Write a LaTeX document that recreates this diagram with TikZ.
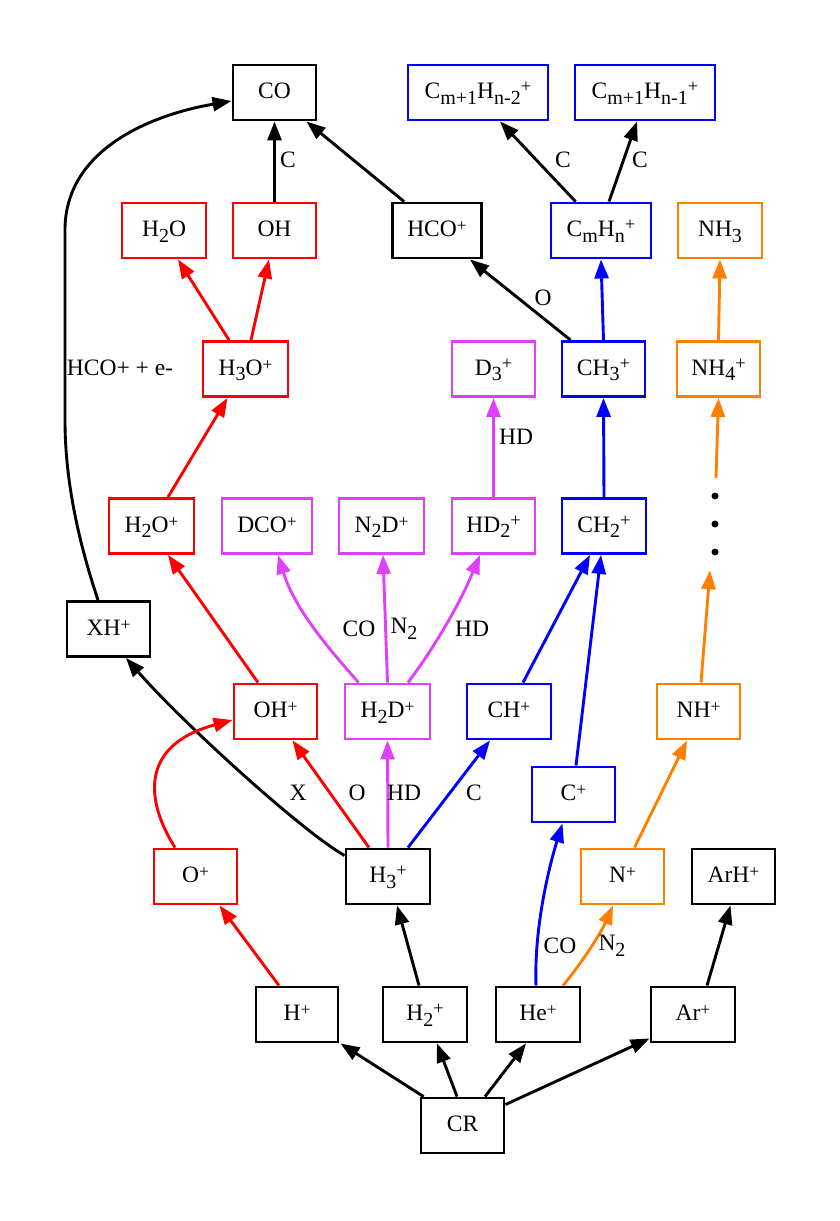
\documentclass[tikz,border=0pt]{standalone}
\usepackage{fontspec}
\setmainfont{Liberation Serif}
\usetikzlibrary{arrows.meta,calc}
\definecolor{mag}{RGB}{224,64,251}
\definecolor{org}{RGB}{255,128,0}
\newcommand\sbs[1]{\raisebox{-5.5pt}{\fontsize{20}{20}\selectfont #1}}
\newcommand\spa[1]{\raisebox{5pt}{\fontsize{17.5}{17.5}\selectfont #1}}
\newcommand\spb[1]{\raisebox{6.2pt}{\fontsize{18.5}{18.5}\selectfont #1}}
\begin{document}
\begin{tikzpicture}[x=1pt,y=-1pt,
  box/.style={draw, line width=2.9pt, minimum width=83pt, minimum height=55pt, inner sep=0pt,
    text height=19pt, text depth=6.5pt, font=\fontsize{23.5}{28}\selectfont},
  rbox/.style={box, draw=red},
  bbox/.style={box, draw=blue},
  obox/.style={box, draw=org},
  mbox/.style={box, draw=mag},
  lab/.style={font=\fontsize{23.5}{28}\selectfont, inner sep=0pt},
  edge/.style={line width=2.9pt, -{Triangle[length=19pt,width=14pt]}},
  dot/.style={circle, fill=black, minimum size=7pt, inner sep=0pt},
]
\useasboundingbox (0,0) rectangle (840,1221);
% nodes
\node[box] (CO) at (274.5,92.5) {CO};
\node[bbox,minimum width=140pt] (Cp2) at (478,92.5) {C\sbs{m+1}H\sbs{n-2}\spb{+}};
\node[bbox,minimum width=140pt] (Cp1) at (645,92.5) {C\sbs{m+1}H\sbs{n-1}\spb{+}};
\node[rbox,minimum width=84pt] (H2O) at (164,230.5) {H\sbs{2}O};
\node[rbox] (OH) at (274.5,230.5) {OH};
\node[box,minimum width=89pt] (HCOp) at (437,230.5) {HCO\spa{+}};
\node[bbox,minimum width=100pt] (CmHn) at (601,230.5) {C\sbs{m}H\sbs{n}\spb{+}};
\node[obox,minimum width=84pt] (NH3) at (720,230.5) {NH\sbs{3}};
\node[rbox,minimum width=85pt] (H3Op) at (245.5,369) {H\sbs{3}O\spa{+}};
\node[mbox] (D3p) at (493.5,369) {D\sbs{3}\spb{+}};
\node[bbox] (CH3p) at (603.5,369) {CH\sbs{3}\spb{+}};
\node[obox] (NH4p) at (718.5,369) {NH\sbs{4}\spb{+}};
\node[rbox,minimum width=85pt] (H2Op) at (151.5,526) {H\sbs{2}O\spa{+}};
\node[mbox,minimum width=90pt] (DCOp) at (267,526) {DCO\spa{+}};
\node[mbox,minimum width=85pt] (N2Dp) at (381.5,526) {N\sbs{2}D\spa{+}};
\node[mbox] (HD2p) at (493.5,526) {HD\sbs{2}\spb{+}};
\node[bbox,minimum width=84pt] (CH2p) at (604,526) {CH\sbs{2}\spb{+}};
\node[dot] (d1) at (715,496) {};
\node[dot] (d2) at (715,524) {};
\node[dot] (d3) at (715,552) {};
\node[box] (XHp) at (108.5,629) {XH\spa{+}};
\node[rbox] (OHp) at (275.5,711.5) {OH\spa{+}};
\node[mbox,minimum width=85pt] (H2Dp) at (387.5,711.5) {H\sbs{2}D\spa{+}};
\node[bbox,minimum width=84pt] (CHp) at (509,711.5) {CH\spa{+}};
\node[obox] (NHp) at (698.5,711.5) {NH\spa{+}};
\node[bbox] (Cp) at (573.5,794.5) {C\spa{+}};
\node[rbox] (Op) at (195.5,876.5) {O\spa{+}};
\node[box,minimum width=84pt] (H3p) at (388,876.5) {H\sbs{3}\spb{+}};
\node[obox] (Np) at (622.5,876.5) {N\spa{+}};
\node[box] (ArHp) at (733.5,876.5) {ArH\spa{+}};
\node[box,minimum width=82pt] (Hp) at (297,1014.5) {H\spa{+}};
\node[box,minimum width=84pt] (H2p) at (425,1014.5) {H\sbs{2}\spb{+}};
\node[box,minimum width=84pt] (Hep) at (538,1014.5) {He\spa{+}};
\node[box,minimum width=84pt] (Arp) at (693,1014.5) {Ar\spa{+}};
\node[box] (CR) at (462.5,1125.5) {CR};
% black edges
\draw[edge] ($(CR.north west)+(4,0)$) -- ($(Hp.south east)+(1,0)$);
\draw[edge] ($(CR.north)+(-5.5,0)$) -- ($(H2p.south)+(12,0)$);
\draw[edge] ($(CR.north)+(22.5,0)$) -- ($(Hep.south)+(-12,0)$);
\draw[edge] ($(CR.north east)+(0,8)$) -- ($(Arp.south west)+(0,-5)$);
\draw[edge] ($(H2p.north)+(-6,0)$) -- ($(H3p.south)+(9,0)$);
\draw[edge] ($(Arp.north)+(14,0)$) -- ($(ArHp.south)+(-3,0)$);
\draw[edge] ($(H3p.north west)+(0,8)$) .. controls (300,830) and (180,720) .. ($(XHp.south)+(17.5,0)$);
\draw[edge] ($(XHp.north)+(-10.5,0)$) .. controls (78,540) and (65,480) .. (65,420) -- (65,230)
   .. controls (65,150) and (150,115) .. ($(CO.west)+(0,8.5)$);
\draw[edge] (OH.north) -- (CO.south);
\draw[edge] ($(HCOp.north west)+(13,0)$) -- ($(CO.south east)+(-11,0)$);
\draw[edge] ($(CH3p.north west)+(10,0)$) -- ($(HCOp.south east)+(-13,0)$);
\draw[edge] ($(CmHn.north west)+(26,0)$) -- ($(Cp2.south)+(22,0)$);
\draw[edge] ($(CmHn.north)+(8,0)$) -- ($(Cp1.south)+(-8,0)$);
% red edges
\begin{scope}[red]
\draw[edge] ($(Hp.north)+(-18,0)$) -- ($(Op.south)+(24,0)$);
\draw[edge] ($(Op.north)+(-20.5,0)$) .. controls (145,800) and (140,745) .. ($(OHp.west)+(0,8.5)$);
\draw[edge] ($(H3p.north)+(-19,0)$) -- ($(OHp.south)+(17,0)$);
\draw[edge] ($(OHp.north)+(-17.5,0)$) -- ($(H2Op.south)+(16.5,0)$);
\draw[edge] ($(H2Op.north)+(16.5,0)$) -- ($(H3Op.south)+(-18,0)$);
\draw[edge] ($(H3Op.north)+(-16.5,0)$) -- ($(H2O.south)+(14,0)$);
\draw[edge] ($(H3Op.north)+(5.5,0)$) -- ($(OH.south)+(-5.5,0)$);
\end{scope}
% magenta edges
\begin{scope}[mag]
\draw[edge] (H3p.north) -- (H2Dp.south);
\draw[edge] ($(H2Dp.north west)+(15,0)$) .. controls (330,650) and (295,610) .. ($(DCOp.south)+(11,0)$);
\draw[edge] (H2Dp.north) -- ($(N2Dp.south)+(1.5,0)$);
\draw[edge] ($(H2Dp.north)+(20.5,0)$) .. controls (425,660) and (455,615) .. ($(HD2p.south)+(-13.5,0)$);
\draw[edge] (HD2p.north) -- (D3p.south);
\end{scope}
% blue edges
\begin{scope}[blue]
\draw[edge] ($(H3p.north)+(20,0)$) -- ($(CHp.south)+(-19,0)$);
\draw[edge] ($(CHp.north)+(14,0)$) -- ($(CH2p.south)+(-14,0)$);
\draw[edge] ($(Cp.north)+(2.5,0)$) -- ($(CH2p.south)+(-3,0)$);
\draw[edge] ($(Hep.north)+(-2,0)$) .. controls (534,930) and (548,870) .. ($(Cp.south)+(-11,0)$);
\draw[edge] (CH2p.north) -- (CH3p.south);
\draw[edge] (CH3p.north) -- (CmHn.south);
\end{scope}
% orange edges
\begin{scope}[org]
\draw[edge] ($(Hep.north)+(25,0)$) .. controls (580,965) and (600,935) .. ($(Np.south)+(-9.5,0)$);
\draw[edge] ($(Np.north)+(12,0)$) -- ($(NHp.south)+(-11.5,0)$);
\draw[edge] ($(NHp.north)+(2.5,0)$) -- ($(d3.south)+(-5,14.5)$);
\draw[edge] ($(d1.north)+(1,-14.5)$) -- (NH4p.south);
\draw[edge] (NH4p.north) -- (NH3.south);
\end{scope}
% labels
\node[lab] (lC1) at (288,160) {C};
\node[lab] (lC2) at (563,160) {C};
\node[lab] (lC3) at (640,160) {C};
\node[lab] (lO1) at (543,298) {O};
\node[lab] (lHCO) at (120,368) {HCO+ + e-};
\node[lab] (lHD1) at (516,437) {HD};
\node[lab] (lCO1) at (359,629) {CO};
\node[lab] (lN21) at (404,629) {N\sbs{2}};
\node[lab] (lHD2) at (472,629) {HD};
\node[lab] (lX) at (298,793) {X};
\node[lab] (lO2) at (357,793) {O};
\node[lab] (lHD3) at (404,793) {HD};
\node[lab] (lC4) at (474,793) {C};
\node[lab] (lCO2) at (560,946) {CO};
\node[lab] (lN22) at (612,946) {N\sbs{2}};
\end{tikzpicture}
\end{document}
